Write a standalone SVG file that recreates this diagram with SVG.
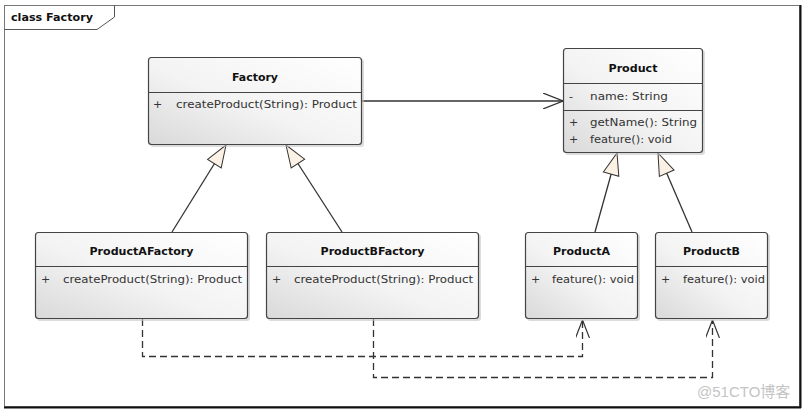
<svg xmlns="http://www.w3.org/2000/svg" width="805" height="412" viewBox="0 0 805 412">
<defs>
<linearGradient id="g" x1="1" y1="0" x2="0" y2="1">
<stop offset="0" stop-color="#ffffff"/>
<stop offset="0.55" stop-color="#f3f3f3"/>
<stop offset="1" stop-color="#d9d9d9"/>
</linearGradient>
<marker id="open" viewBox="0 0 20 16" refX="20" refY="8" markerWidth="20" markerHeight="16" markerUnits="userSpaceOnUse" orient="auto">
<path d="M0,0 L20,8 L0,16" fill="none" stroke="#333" stroke-width="1.2"/>
</marker>
<marker id="tri" viewBox="0 0 24 18" refX="23" refY="9" markerWidth="24" markerHeight="18" markerUnits="userSpaceOnUse" orient="auto">
<path d="M1,1 L23,9 L1,17 Z" fill="#fbf1e4" stroke="#333" stroke-width="1"/>
</marker>
<marker id="dep" viewBox="0 0 18 14" refX="18" refY="7" markerWidth="18" markerHeight="14" markerUnits="userSpaceOnUse" orient="auto">
<path d="M0,0 L18,7 L0,14" fill="none" stroke="#333" stroke-width="1.2"/>
</marker>
</defs>
<style>
.box{fill:url(#g);stroke:#444;stroke-width:1.2}
.sh{fill:#c4c4c4;opacity:0.6}
.div{stroke:#444;stroke-width:1}
.t{font-family:"DejaVu Sans",Verdana,sans-serif;font-size:11px;font-weight:bold;fill:#111;text-anchor:middle}
.m{font-family:"DejaVu Sans",Verdana,sans-serif;font-size:11px;fill:#333}
.ln{fill:none;stroke:#333;stroke-width:1.3}
.dash{fill:none;stroke:#333;stroke-width:1.3;stroke-dasharray:7,4}
</style>
<rect width="805" height="412" fill="#fff"/>
<g id="frame">
<rect x="4.5" y="5.5" width="795" height="401" fill="none" stroke="#777" stroke-width="1"/>
<line x1="800.5" y1="5" x2="800.5" y2="408" stroke="#111" stroke-width="2"/>
<line x1="4" y1="407.5" x2="801" y2="407.5" stroke="#111" stroke-width="2"/>
<path d="M4.5,29.5 H97 L114.5,17 V5.5" fill="none" stroke="#555" stroke-width="1"/>
<text x="11" y="21" font-family="DejaVu Sans,Verdana,sans-serif" font-size="11" font-weight="bold" fill="#111" textLength="82" lengthAdjust="spacingAndGlyphs">class Factory</text>
</g>
<g id="connectors">
<line class="ln" x1="362" y1="101" x2="563" y2="101" marker-end="url(#open)"/>
<line class="ln" x1="172" y1="232" x2="226" y2="145" marker-end="url(#tri)"/>
<line class="ln" x1="342" y1="232" x2="286" y2="145" marker-end="url(#tri)"/>
<line class="ln" x1="595" y1="232" x2="617" y2="153" marker-end="url(#tri)"/>
<line class="ln" x1="692" y1="232" x2="658" y2="153" marker-end="url(#tri)"/>
<path class="dash" d="M142.5,319 V356.5 H582.5 V320" marker-end="url(#dep)"/>
<path class="dash" d="M373.5,319 V377.5 H712.5 V320" marker-end="url(#dep)"/>
</g>
<g id="Factory">
<rect class="sh" x="150" y="59" width="214" height="88" rx="3"/>
<rect class="box" x="148.5" y="57.5" width="213" height="87" rx="3"/>
<line class="div" x1="148.5" y1="92.5" x2="361.5" y2="92.5"/>
<text class="t" x="255" y="81" textLength="46" lengthAdjust="spacingAndGlyphs">Factory</text>
<text class="m" x="153" y="108">+</text>
<text class="m" x="176" y="108" textLength="181" lengthAdjust="spacingAndGlyphs">createProduct(String): Product</text>
</g>
<g id="Product">
<rect class="sh" x="565" y="50" width="140" height="105" rx="3"/>
<rect class="box" x="563.5" y="48.5" width="139" height="104" rx="3"/>
<line class="div" x1="563.5" y1="83.5" x2="702.5" y2="83.5"/>
<line class="div" x1="563.5" y1="110.5" x2="702.5" y2="110.5"/>
<text class="t" x="633" y="72" textLength="49" lengthAdjust="spacingAndGlyphs">Product</text>
<text class="m" x="569" y="100">-</text>
<text class="m" x="590" y="100" textLength="78" lengthAdjust="spacingAndGlyphs">name: String</text>
<text class="m" x="569" y="126">+</text>
<text class="m" x="590" y="126" textLength="107" lengthAdjust="spacingAndGlyphs">getName(): String</text>
<text class="m" x="569" y="143">+</text>
<text class="m" x="590" y="143" textLength="82" lengthAdjust="spacingAndGlyphs">feature(): void</text>
</g>
<g id="ProductAFactory">
<rect class="sh" x="37" y="234" width="213" height="87" rx="3"/>
<rect class="box" x="35.5" y="232.5" width="212" height="86" rx="3"/>
<line class="div" x1="35.5" y1="266.5" x2="247.5" y2="266.5"/>
<text class="t" x="141.5" y="255" textLength="104" lengthAdjust="spacingAndGlyphs">ProductAFactory</text>
<text class="m" x="41" y="283">+</text>
<text class="m" x="63" y="283" textLength="179" lengthAdjust="spacingAndGlyphs">createProduct(String): Product</text>
</g>
<g id="ProductBFactory">
<rect class="sh" x="268" y="234" width="213" height="87" rx="3"/>
<rect class="box" x="266.5" y="232.5" width="212" height="86" rx="3"/>
<line class="div" x1="266.5" y1="266.5" x2="478.5" y2="266.5"/>
<text class="t" x="372.5" y="255" textLength="104" lengthAdjust="spacingAndGlyphs">ProductBFactory</text>
<text class="m" x="272" y="283">+</text>
<text class="m" x="294" y="283" textLength="179" lengthAdjust="spacingAndGlyphs">createProduct(String): Product</text>
</g>
<g id="ProductA">
<rect class="sh" x="527" y="234" width="113" height="87" rx="3"/>
<rect class="box" x="525.5" y="232.5" width="112" height="86" rx="3"/>
<line class="div" x1="525.5" y1="266.5" x2="637.5" y2="266.5"/>
<text class="t" x="581.5" y="255" textLength="57" lengthAdjust="spacingAndGlyphs">ProductA</text>
<text class="m" x="531" y="283">+</text>
<text class="m" x="552" y="283" textLength="82" lengthAdjust="spacingAndGlyphs">feature(): void</text>
</g>
<g id="ProductB">
<rect class="sh" x="657" y="234" width="113" height="87" rx="3"/>
<rect class="box" x="655.5" y="232.5" width="112" height="86" rx="3"/>
<line class="div" x1="655.5" y1="266.5" x2="767.5" y2="266.5"/>
<text class="t" x="711.5" y="255" textLength="57" lengthAdjust="spacingAndGlyphs">ProductB</text>
<text class="m" x="661" y="283">+</text>
<text class="m" x="683" y="283" textLength="82" lengthAdjust="spacingAndGlyphs">feature(): void</text>
</g>
<text x="697" y="397" font-family="Liberation Sans,'Noto Sans CJK SC',sans-serif" font-size="15" fill="#c4c4c4">@51CTO博客</text>
</svg>
